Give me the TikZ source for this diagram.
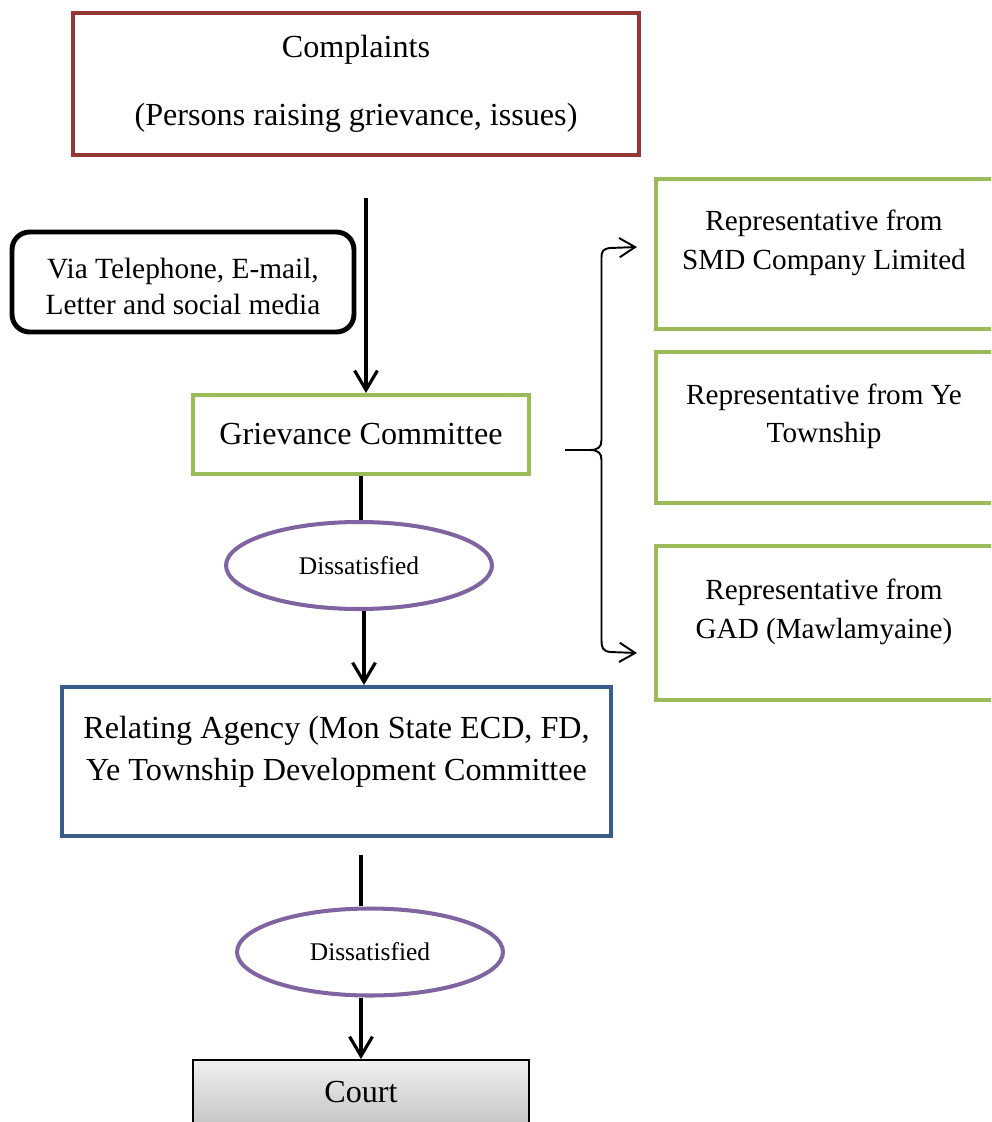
\documentclass[tikz,border=0pt]{standalone}
\usepackage{fontspec}
\setmainfont{Liberation Serif}
\usepackage{tikz}
\usetikzlibrary{arrows.meta,positioning,calc,shapes.geometric}
\definecolor{compred}{RGB}{149,55,53}
\definecolor{comgreen}{RGB}{155,187,89}
\definecolor{dispurple}{RGB}{128,100,162}
\definecolor{agblue}{RGB}{56,93,138}

\begin{document}
\begin{tikzpicture}[x=0.02cm,y=-0.02cm,font=\fontsize{18.3}{24}\selectfont,
  box/.style={draw,rectangle,line width=2.3pt,align=center,inner sep=0pt},
  repbox/.style={box,draw=comgreen,minimum width=6.8cm},
  reptxt/.style={align=center,font=\fontsize{16.6}{22}\selectfont},
  dissat/.style={draw=dispurple,ellipse,line width=2.3pt,minimum width=5.32cm,
    minimum height=1.74cm,inner sep=0pt,font=\fontsize{14.5}{17}\selectfont},
  flow/.style={line width=1.8pt,-{Straight Barb[length=11pt,width=13pt]}},
  link/.style={line width=1.8pt},
  brace/.style={line width=1.1pt,{Straight Barb[length=9pt,width=11pt]}-{Straight Barb[length=9pt,width=11pt]}}]
  \clip (0,0) rectangle (991,1122);
  % main column
  \node[box,draw=compred,minimum width=11.32cm,minimum height=2.84cm] (comp) at (356,84)
    {Complaints\\[15pt](Persons raising grievance, issues)};
  \node[box,draw=black,line width=2.8pt,rounded corners=10pt,minimum width=6.84cm,
    minimum height=2cm,font=\fontsize{16.7}{20}\selectfont] (via) at (183,282) {};
  \node[align=center,font=\fontsize{16.7}{20}\selectfont] (viat) at ([yshift=-0.09cm]via.center)
    {Via Telephone, E-mail,\\Letter and social media};
  \node[box,draw=comgreen,minimum width=6.72cm,minimum height=1.58cm] (griev) at (361,434.5)
    {Grievance Committee};
  \node[dissat] (dis1) at (359,565.5) {Dissatisfied};
  \node[box,draw=agblue,minimum width=10.98cm,minimum height=2.98cm] (agency) at (336.5,761.5) {};
  \node[align=center] (agencyt) at ([yshift=0.2cm]agency.center)
    {Relating Agency (Mon State ECD, FD,\\Ye Township Development Committee};
  \node[dissat] (dis2) at (370,952) {Dissatisfied};
  \node[box,draw=black,line width=1.1pt,top color=gray!12,bottom color=gray!45,
    minimum width=6.72cm,minimum height=1.28cm] (court) at (361,1092) {Court};
  % representatives
  \node[repbox,minimum height=3cm] (rep1) at (826,254) {};
  \node[repbox,minimum height=3.02cm] (rep2) at (826,427.5) {};
  \node[repbox,minimum height=3.08cm] (rep3) at (826,623) {};
  \node[reptxt] (rep1t) at ([xshift=-0.04cm,yshift=0.22cm]rep1.center)
    {Representative from\\SMD Company Limited};
  \node[reptxt] (rep2t) at ([xshift=-0.04cm,yshift=0.22cm]rep2.center)
    {Representative from Ye\\Township};
  \node[reptxt] (rep3t) at ([xshift=-0.04cm,yshift=0.22cm]rep3.center)
    {Representative from\\GAD (Mawlamyaine)};
  % connectors
  \coordinate (c1) at (366,198);
  \coordinate (c2) at (361,855);
  \draw[flow] (c1) -- (c1 |- griev.north);
  \draw[link] (griev.south) -- (griev.south |- dis1.north);
  \draw[flow] (dis1.south -| 364,0) -- (agency.north -| 364,0);
  \draw[link] (c2) -- (c2 |- dis2.north);
  \draw[flow] (c2 |- dis2.south) -- (c2 |- court.north);
  % brace
  \coordinate (bl) at (565,450);
  \coordinate (bt) at (637,247);
  \coordinate (bb) at (637,653);
  \draw[brace] (bt) -- (610,248) .. controls (603,249) and (601.5,251) .. (601.5,258)
    -- (601.5,440) .. controls (601.5,447) and (598,450) .. (590,450)
    .. controls (598,450) and (601.5,453) .. (601.5,460)
    -- (601.5,640) .. controls (601.5,648) and (603,651) .. (610,652) -- (bb);
  \draw[line width=1.1pt] (bl) -- (590,450);
\end{tikzpicture}
\end{document}
